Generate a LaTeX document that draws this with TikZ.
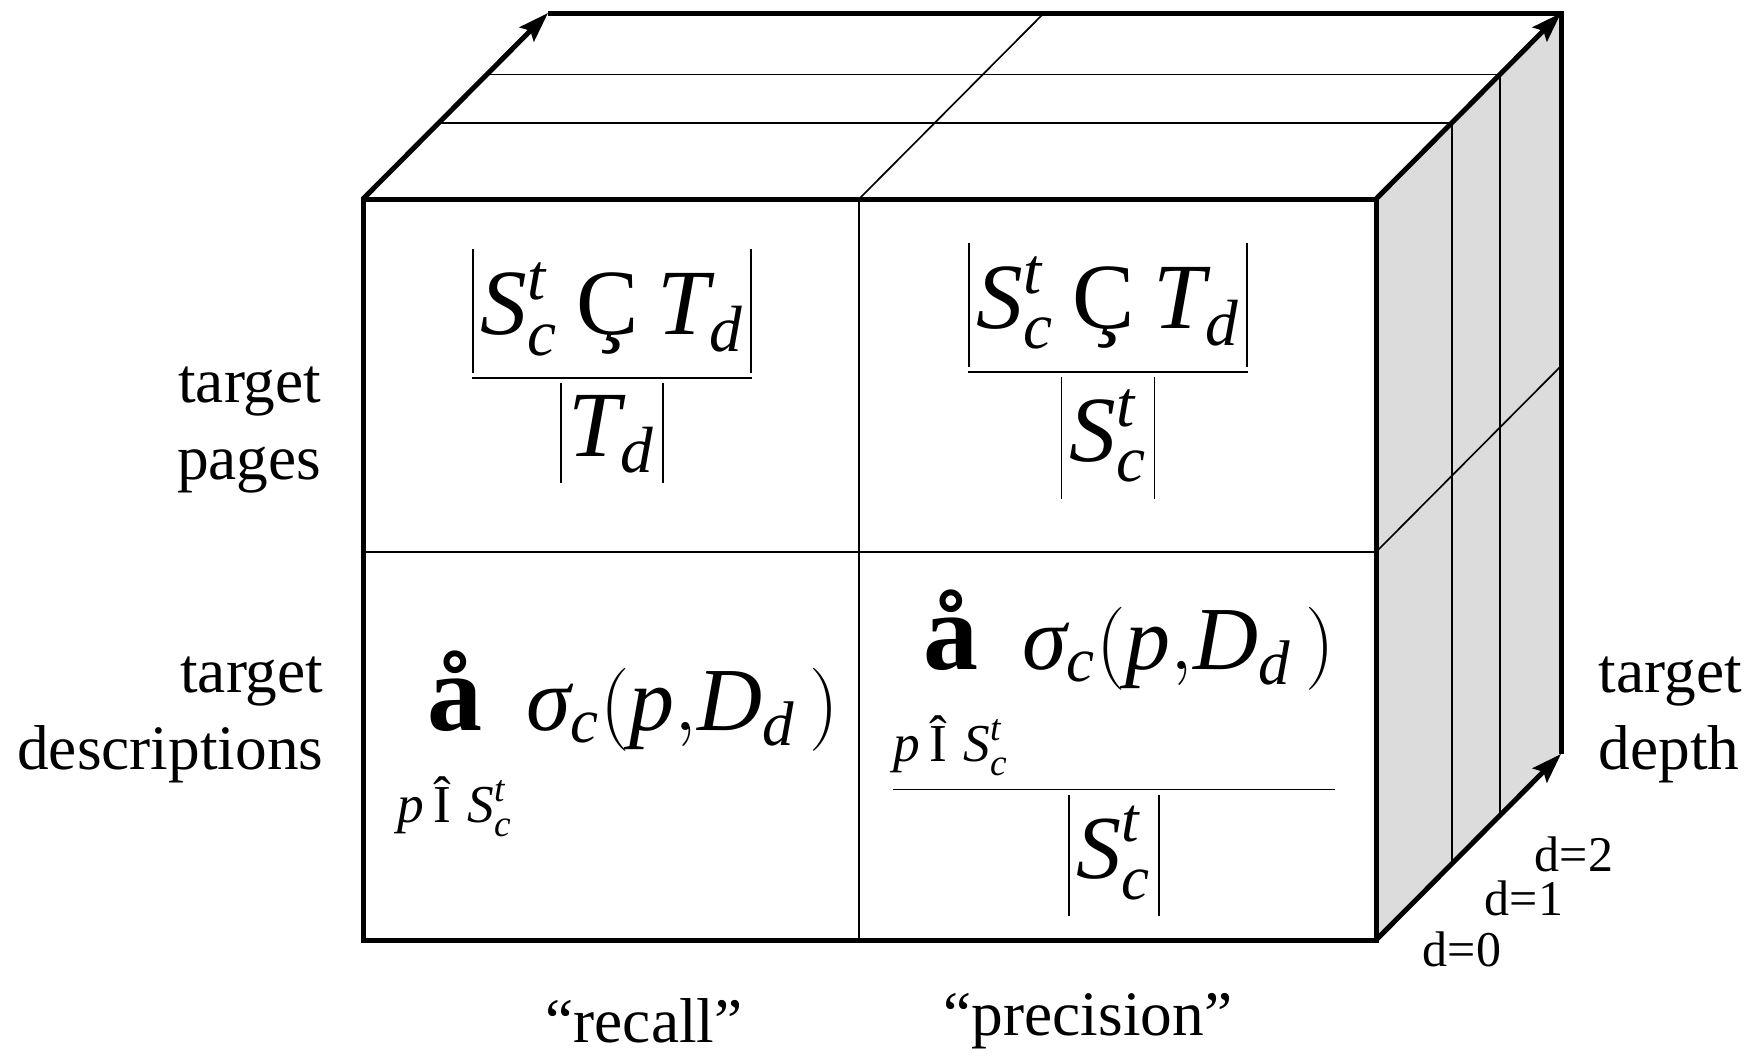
\documentclass[tikz,border=0pt]{standalone}
\usepackage{amsmath}
\usepackage{fontspec}
\setmainfont{Liberation Serif}
\usetikzlibrary{positioning, calc, arrows.meta}
\definecolor{sidegray}{RGB}{220,220,220}
\newcommand{\vi}[1]{\textit{#1}}
% thin bars of a given depth and height round #3
\newcommand{\absv}[3]{\mathopen{\rule[-#1]{0.45pt}{#2}}\mskip1.5mu#3\mskip1.5mu\mathclose{\rule[-#1]{0.45pt}{#2}}}
\newcommand{\thinfrac}[2]{\genfrac{}{}{0.45pt}{0}{#1}{#2}}
\newcommand{\sumop}{\mathop{\text{\fontsize{33}{33}\selectfont\bfseries å}\rule[-0.36em]{0pt}{0pt}}\limits_{\text{\fontsize{16}{16}\selectfont$\vi{p}\,\text{Î}\;\vi{S}^{\vi{t}}_{\vi{c}}$}}}
\newcommand{\sumterm}{\vi{σ}_{\vi{c}}(\vi{p}{,}\vi{D}_{\vi{d}}\,)}

\begin{document}
\begin{tikzpicture}[x=0.3pt, y=-0.3pt, font=\fontsize{19}{23}\selectfont]
  \tikzset{
    edge/.style={line width=1.5pt, line join=miter},
    grid/.style={line width=0.5pt},
    axis/.style={edge, -{Stealth[length=9pt, width=6pt, inset=1.5pt]}},
    formula/.style={inner sep=0pt, font=\fontsize{28}{34}\selectfont},
    sumformula/.style={inner sep=0pt, font=\fontsize{27}{32}\selectfont},
    lbl/.style={inner sep=0pt, align=right},
    dlbl/.style={inner sep=0pt, font=\fontsize{15}{18}\selectfont}
  }
  \useasboundingbox (0,0) rectangle (1750,1058);
  % corners of the cube
  \coordinate (ftl) at (363,199);
  \coordinate (ftr) at (1376,199);
  \coordinate (fbr) at (1376,940);
  \coordinate (fbl) at (363,940);
  \coordinate (btl) at (548,13);
  \coordinate (btr) at (1561,13);
  \coordinate (bbr) at (1561,754);
  % cell borders
  \coordinate (fmt) at (859,199);
  \coordinate (fmb) at (859,940);
  \coordinate (fml) at (363,552);
  \coordinate (fmr) at (1376,552);
  \coordinate (bmt) at (1044,13);
  \coordinate (bmr) at (1561,366);

  \fill[sidegray] (ftr) -- (btr) -- (bbr) -- (fbr) -- cycle;
  \foreach \f in {0.41,0.67}
    \draw[grid] ($(ftl)!\f!(btl)$) -- ($(ftr)!\f!(btr)$) -- ($(fbr)!\f!(bbr)$);
  \draw[grid] (fmt) -- (fmb);
  \draw[grid] (fml) -- (fmr);
  \draw[grid] (fmt) -- (bmt);
  \draw[grid] (fmr) -- (bmr);

  \draw[edge] (ftl) rectangle (fbr);
  \draw[edge] (btl) -- (btr) -- (bbr);
  \draw[axis] (ftl) -- (btl);
  \draw[axis] (ftr) -- (btr);
  \draw[axis] (fbr) -- (bbr);

  % cell contents
  \node[formula] (recTop) at (612,366)
    {$\thinfrac{\absv{0.41em}{1.33em}{\vi{S}^{\vi{t}}_{\vi{c}}\mathbin{\text{Ç}}\vi{T}_{\vi{d}}}}{\absv{0.29em}{1.07em}{\vi{T}_{\vi{d}}}}$};
  \node[formula] (preTop) at (1108,371)
    {$\thinfrac{\absv{0.41em}{1.33em}{\vi{S}^{\vi{t}}_{\vi{c}}\mathbin{\text{Ç}}\vi{T}_{\vi{d}}}}{\absv{0.41em}{1.31em}{\vi{S}^{\vi{t}}_{\vi{c}}}}$};
  \node[sumformula] (recBot) at (618,748)
    {$\sumop\sumterm$};
  \node[sumformula] (preBot) at (1114,753)
    {$\thinfrac{\sumop\sumterm}{\absv{0.42em}{1.35em}{\vi{S}^{\vi{t}}_{\vi{c}}}}$};

  % axis labels
  \node[lbl, anchor=east] (pages) at (322,430) {target\\pages};
  \node[lbl, anchor=east] (descr) at (324,720) {target\\descriptions};
  \node[lbl, anchor=west, align=left] (depth) at (1598,720) {target\\depth};
  \node (recall) at (644,1021) {``recall''};
  \node (precision) at (1088,1021) {``precision''};
  \node[dlbl] (d0) at (1462,949) {d=0};
  \node[dlbl] (d1) at (1524,898) {d=1};
  \node[dlbl] (d2) at (1574,854) {d=2};
\end{tikzpicture}
\end{document}
